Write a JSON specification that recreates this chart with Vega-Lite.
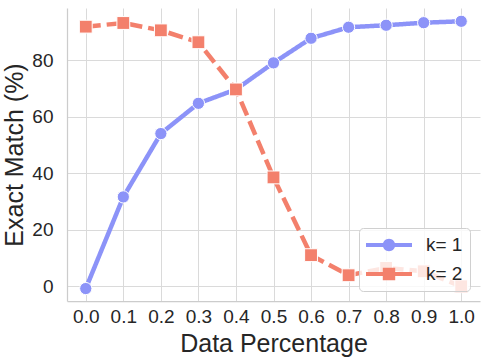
{
  "$schema": "https://vega.github.io/schema/vega-lite/v6.json",
  "width": 413,
  "height": 293,
  "autosize": {"type": "none"},
  "padding": {"left": 67, "top": 8, "right": 8, "bottom": 63},
  "background": "white",
  "config": {
    "view": {"stroke": null},
    "font": "Liberation Sans",
    "axis": {
      "labelFont": "Liberation Sans",
      "titleFont": "Liberation Sans",
      "labelColor": "#262626",
      "titleColor": "#262626",
      "labelFontSize": 19,
      "titleFontSize": 25,
      "titleFontWeight": "normal",
      "ticks": false,
      "gridColor": "#dadada",
      "gridWidth": 1,
      "domainColor": "#cccccc",
      "domainWidth": 1.25
    }
  },
  "data": {
    "values": [
      {"p": 0.0, "em": -0.8, "k": "k= 1"},
      {"p": 0.1, "em": 31.6, "k": "k= 1"},
      {"p": 0.2, "em": 54.0, "k": "k= 1"},
      {"p": 0.3, "em": 64.7, "k": "k= 1"},
      {"p": 0.4, "em": 69.6, "k": "k= 1"},
      {"p": 0.5, "em": 79.0, "k": "k= 1"},
      {"p": 0.6, "em": 87.7, "k": "k= 1"},
      {"p": 0.7, "em": 91.6, "k": "k= 1"},
      {"p": 0.8, "em": 92.3, "k": "k= 1"},
      {"p": 0.9, "em": 93.2, "k": "k= 1"},
      {"p": 1.0, "em": 93.7, "k": "k= 1"},
      {"p": 0.0, "em": 91.8, "k": "k= 2"},
      {"p": 0.1, "em": 93.1, "k": "k= 2"},
      {"p": 0.2, "em": 90.5, "k": "k= 2"},
      {"p": 0.3, "em": 86.3, "k": "k= 2"},
      {"p": 0.4, "em": 69.6, "k": "k= 2"},
      {"p": 0.5, "em": 38.5, "k": "k= 2"},
      {"p": 0.6, "em": 11.0, "k": "k= 2"},
      {"p": 0.7, "em": 3.9, "k": "k= 2"},
      {"p": 0.8, "em": 6.5, "k": "k= 2"},
      {"p": 0.9, "em": 5.3, "k": "k= 2"},
      {"p": 1.0, "em": 0.0, "k": "k= 2"}
    ]
  },
  "encoding": {
    "x": {
      "field": "p", "type": "quantitative",
      "scale": {"domain": [-0.05, 1.05], "nice": false, "zero": false},
      "axis": {"title": "Data Percentage", "values": [0, 0.1, 0.2, 0.3, 0.4, 0.5, 0.6, 0.7, 0.8, 0.9, 1.0], "format": ".1f", "labelPadding": 6, "titlePadding": 5, "labelFlush": false, "labelOverlap": false}
    },
    "y": {
      "field": "em", "type": "quantitative",
      "scale": {"domain": [-5.2, 98.4], "nice": false, "zero": false},
      "axis": {"title": "Exact Match (%)", "values": [0, 20, 40, 60, 80], "labelPadding": 14, "titlePadding": 4}
    },
    "color": {
      "field": "k", "type": "nominal",
      "scale": {"domain": ["k= 1", "k= 2"], "range": ["#8c93f8", "#f3806c"]},
      "legend": {
        "title": null,
        "orient": "bottom-right",
        "offset": 10,
        "fillColor": "rgba(255,255,255,0.8)",
        "strokeColor": "#d0d0d0",
        "cornerRadius": 4,
        "padding": 7,
        "rowPadding": 9,
        "symbolSize": 400,
        "labelOffset": 40,
        "labelFont": "Liberation Sans",
        "labelFontSize": 19,
        "labelColor": "#262626",
        "encode": {
          "symbols": {
            "update": {
              "shape": {"signal": "datum.value === 'k= 1' ? 'M-1,-0.2H3.6V0.2H-1Z M1.92,0A0.62,0.62 0 1 1 0.68,0A0.62,0.62 0 1 1 1.92,0Z' : 'M-1,-0.2H3.6V0.2H-1Z M0.68,-0.62H1.92V0.62H0.68Z'"},
              "fill": {"signal": "datum.value === 'k= 1' ? '#8c93f8' : '#f3806c'"},
              "stroke": {"value": "transparent"},
              "strokeWidth": {"value": 0},
              "opacity": {"value": 1},
              "fillOpacity": {"value": 1}
            }
          }
        }
      }
    }
  },
  "layer": [
    {
      "mark": {"type": "line", "strokeWidth": 4.5},
      "encoding": {
        "strokeDash": {
          "field": "k", "type": "nominal",
          "scale": {"domain": ["k= 1", "k= 2"], "range": [[1, 0], [15, 6]]},
          "legend": null
        }
      }
    },
    {
      "transform": [{"filter": "datum.k === 'k= 1'"}],
      "mark": {"type": "point", "shape": "circle", "filled": true, "opacity": 1, "stroke": "white", "strokeWidth": 1, "size": 150}
    },
    {
      "transform": [{"filter": "datum.k === 'k= 2'"}],
      "mark": {"type": "point", "shape": "square", "filled": true, "opacity": 1, "stroke": "white", "strokeWidth": 1, "size": 165}
    }
  ]
}
